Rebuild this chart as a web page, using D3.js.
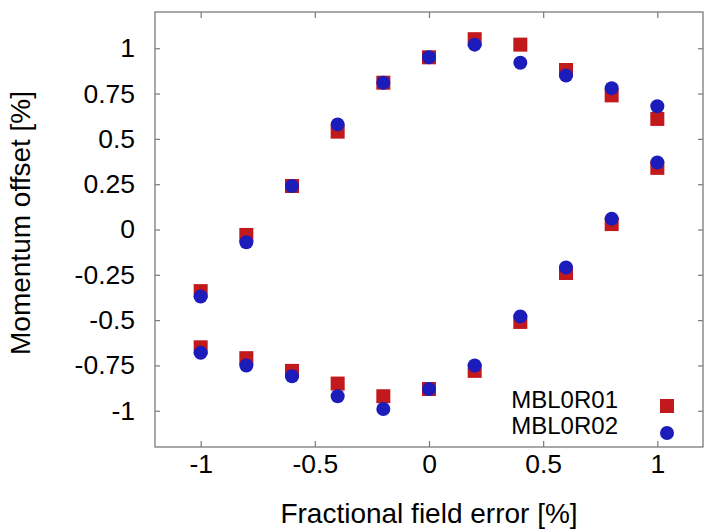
<!DOCTYPE html>
<html>
<head>
<meta charset="utf-8">
<script src="https://cdn.jsdelivr.net/npm/d3@7"></script>
<style>
  body { margin: 0; background: #fff; }
  text { font-family: "Liberation Sans", Arial, sans-serif; fill: #000; }
</style>
</head>
<body>
<script>
// field error points go round the loop: upper branch left->right, lower branch right->left
const fieldError = [-1, -0.8, -0.6, -0.4, -0.2, 0, 0.2, 0.4, 0.6, 0.8, 1,
                    1, 0.8, 0.6, 0.4, 0.2, 0, -0.2, -0.4, -0.6, -0.8, -1];
const mbl0r01 = [-0.34, -0.03, 0.24, 0.54, 0.81, 0.95, 1.05, 1.02, 0.88, 0.74, 0.61,
                 0.34, 0.03, -0.24, -0.51, -0.78, -0.88, -0.92, -0.85, -0.78, -0.71, -0.65];
const mbl0r02 = [-0.37, -0.07, 0.24, 0.58, 0.81, 0.95, 1.02, 0.92, 0.85, 0.78, 0.68,
                 0.37, 0.06, -0.21, -0.48, -0.75, -0.88, -0.99, -0.92, -0.81, -0.75, -0.68];
const xTicks = [-1, -0.5, 0, 0.5, 1];
const yTicks = [-1, -0.75, -0.5, -0.25, 0, 0.25, 0.5, 0.75, 1];
const seriesNames = ["MBL0R01", "MBL0R02"];

const width = 704, height = 532;
const margin = { top: 12, right: 1, bottom: 85, left: 155 };

const red = "#c1191c", blue = "#1c1cbb", frame = "#7a7a7a";

const svg = d3.select("body").append("svg")
    .attr("width", width)
    .attr("height", height);

// scales
const xScale = d3.scaleLinear()
    .domain([-1.2, 1.2])
    .range([margin.left, width - margin.right]);

const yScale = d3.scaleLinear()
    .domain([-1.2, 1.2])
    .range([height - margin.bottom, margin.top]);

// plain hyphen minus like the original, not the unicode minus
const fmt = d => String(d);

// bottom axis with labels, ticks pointing in
const xAxis = svg.append("g")
    .attr("transform", "translate(0," + yScale(-1.2) + ")")
    .call(d3.axisBottom(xScale).tickValues(xTicks).tickFormat(fmt)
        .tickSizeInner(-6).tickSizeOuter(0).tickPadding(7));

// left axis with labels
const yAxis = svg.append("g")
    .attr("transform", "translate(" + xScale(-1.2) + ",0)")
    .call(d3.axisLeft(yScale).tickValues(yTicks).tickFormat(fmt)
        .tickSizeInner(-5).tickSizeOuter(0).tickPadding(20));

// mirrored ticks on top and right
svg.append("g")
    .attr("transform", "translate(0," + yScale(1.2) + ")")
    .call(d3.axisTop(xScale).tickValues(xTicks).tickFormat("")
        .tickSizeInner(-6).tickSizeOuter(0));

svg.append("g")
    .attr("transform", "translate(" + xScale(1.2) + ",0)")
    .call(d3.axisRight(yScale).tickValues(yTicks).tickFormat("")
        .tickSizeInner(-5).tickSizeOuter(0));

svg.selectAll(".domain").remove();
svg.selectAll(".tick line").attr("stroke", frame).attr("stroke-width", 1.2);
svg.selectAll(".tick text")
    .style("font-size", "26.5px")
    .attr("font-family", null)
    .attr("fill", "#000");

// plot frame
svg.append("rect")
    .attr("x", xScale(-1.2))
    .attr("y", yScale(1.2))
    .attr("width", xScale(1.2) - xScale(-1.2))
    .attr("height", yScale(-1.2) - yScale(1.2))
    .attr("fill", "none")
    .attr("stroke", frame)
    .attr("stroke-width", 1.3);

// points: squares for MBL0R01, circles for MBL0R02 on top
const sq = 14;
svg.selectAll(".sq").data(fieldError.map((x, i) => [x, mbl0r01[i]]))
    .enter()
    .append("rect")
    .attr("x", d => xScale(d[0]) - sq / 2)
    .attr("y", d => yScale(d[1]) - sq / 2)
    .attr("width", sq)
    .attr("height", sq)
    .attr("fill", red);

svg.selectAll(".dot").data(fieldError.map((x, i) => [x, mbl0r02[i]]))
    .enter()
    .append("circle")
    .attr("cx", d => xScale(d[0]))
    .attr("cy", d => yScale(d[1]))
    .attr("r", 7)
    .attr("fill", blue);

// legend
const legend = svg.append("g");
seriesNames.forEach((name, i) => {
    const yy = 408 + i * 26;
    legend.append("text")
        .attr("x", 618)
        .attr("y", yy)
        .attr("text-anchor", "end")
        .style("font-size", "24px")
        .text(name);
    if (i == 0) {
        legend.append("rect")
            .attr("x", 667 - sq / 2).attr("y", yy - 2 - sq / 2)
            .attr("width", sq).attr("height", sq)
            .attr("fill", red);
    } else {
        legend.append("circle")
            .attr("cx", 667).attr("cy", yy - 1)
            .attr("r", 7)
            .attr("fill", blue);
    }
});

// axis titles
svg.append("text")
    .attr("x", (xScale(-1.2) + xScale(1.2)) / 2)
    .attr("y", 523)
    .attr("text-anchor", "middle")
    .style("font-size", "28px")
    .text("Fractional field error [%]");

svg.append("text")
    .attr("transform", "translate(30," + 223 + ") rotate(-90)")
    .attr("text-anchor", "middle")
    .style("font-size", "28px")
    .text("Momentum offset [%]");
</script>
</body>
</html>
